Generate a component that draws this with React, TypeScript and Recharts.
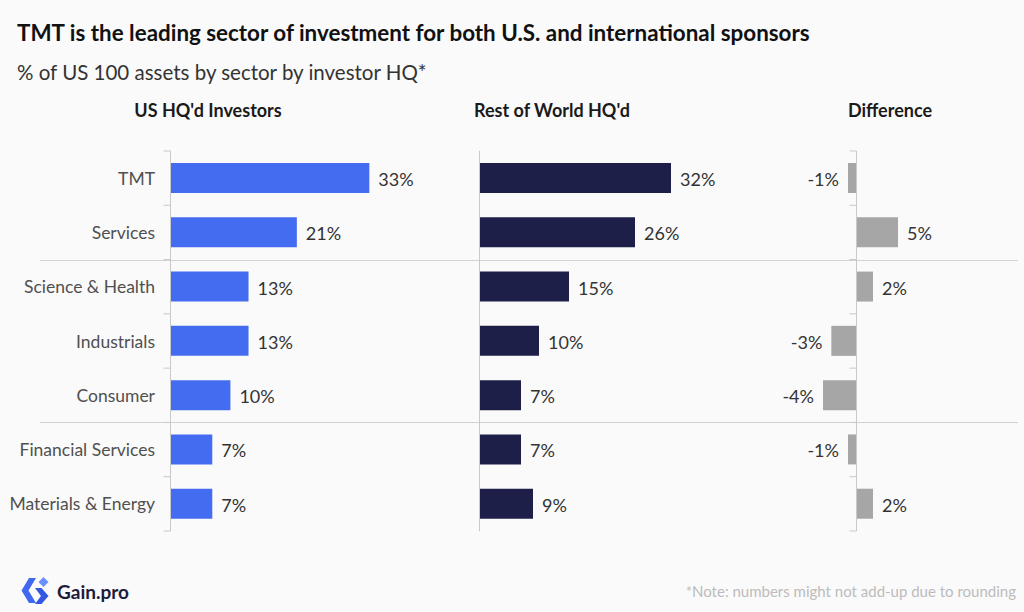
import React from 'react';
import { BarChart, Bar, XAxis, YAxis, ReferenceLine, LabelList } from 'recharts';

// Sector split of US 100 assets, by where the investor is headquartered
const sectors = [
  'TMT',
  'Services',
  'Science & Health',
  'Industrials',
  'Consumer',
  'Financial Services',
  'Materials & Energy',
];
const usShare = [33, 21, 13, 13, 10, 7, 7];
const rowShare = [32, 26, 15, 10, 7, 7, 9];
const difference = [-1, 5, 2, -3, -4, -1, 2];
// Group separators are drawn above these row positions
const groupBreaks = [2, 5];

const rows = sectors.map((sector, i) => ({
  sector,
  us: usShare[i],
  row: rowShare[i],
  diff: difference[i],
}));

const FONT = 'Lato, "Open Sans", sans-serif';
const BG = '#fafafa';
const AXIS = '#c9c9c9';
const BLUE = '#436cf0';
const NAVY = '#1d1f49';
const GREY = '#a6a6a6';

const CHART_TOP = 141;
const CHART_H = 400;
const MARGIN_V = 10;
const PLOT_TOP = CHART_TOP + MARGIN_V;
const BAND = (CHART_H - 2 * MARGIN_V) / sectors.length;

// Vertical axis at the zero value, with ticks at every category boundary
const ZeroAxis = (p: any) => {
  const { x1, y1, y2 } = p;
  const top = Math.min(y1, y2);
  const bottom = Math.max(y1, y2);
  const step = (bottom - top) / sectors.length;
  const x = Math.round(x1) + 0.5;
  return (
    <g>
      <line x1={x} y1={top} x2={x} y2={bottom} stroke={AXIS} strokeWidth={1} />
      {Array.from({ length: sectors.length + 1 }, (_, i) => (
        <line
          key={i}
          x1={x - 7}
          x2={x}
          y1={top + i * step}
          y2={top + i * step}
          stroke={AXIS}
          strokeWidth={1}
        />
      ))}
    </g>
  );
};

const ValueLabel = (p: any) => {
  const { x, y, width, height, value } = p;
  const left = Math.min(x, x + width);
  const right = Math.max(x, x + width);
  const neg = value < 0;
  return (
    <text
      x={neg ? left - 9 : right + 9}
      y={y + height / 2 + 1}
      textAnchor={neg ? 'end' : 'start'}
      dominantBaseline="central"
      fontFamily={FONT}
      fontSize={18}
      fill="#333"
    >
      {`${value}%`}
    </text>
  );
};

const SectorTick = (p: any) => (
  <text
    x={p.x}
    y={p.y}
    textAnchor="end"
    dominantBaseline="central"
    fontFamily={FONT}
    fontSize={17.5}
    fill="#505050"
  >
    {p.payload.value}
  </text>
);

type PanelProps = {
  left: number;
  width: number;
  dataKey: string;
  color: string;
  domain: [number, number];
  showLabels?: boolean;
  axisWidth?: number;
  marginRight: number;
};

const Panel = ({ left, width, dataKey, color, domain, showLabels, axisWidth, marginRight }: PanelProps) => (
  <div style={{ position: 'absolute', left, top: CHART_TOP }}>
    <BarChart
      width={width}
      height={CHART_H}
      data={rows}
      layout="vertical"
      margin={{ top: MARGIN_V, bottom: MARGIN_V, left: 0, right: marginRight }}
      barCategoryGap={0}
    >
      <XAxis type="number" domain={domain} hide allowDataOverflow />
      {showLabels ? (
        <YAxis
          type="category"
          dataKey="sector"
          width={axisWidth}
          axisLine={false}
          tickLine={false}
          tickSize={0}
          tickMargin={15}
          tick={<SectorTick />}
          interval={0}
        />
      ) : (
        <YAxis type="category" dataKey="sector" hide />
      )}
      <Bar dataKey={dataKey} fill={color} barSize={30} isAnimationActive={false}>
        <LabelList dataKey={dataKey} content={<ValueLabel />} />
      </Bar>
      <ReferenceLine x={0} stroke={AXIS} shape={<ZeroAxis />} />
    </BarChart>
  </div>
);

const Header = ({ cx, text }: { cx: number; text: string }) => (
  <div
    style={{
      position: 'absolute',
      left: cx - 120,
      width: 240,
      top: 99,
      textAlign: 'center',
      fontSize: 18,
      fontWeight: 700,
      color: '#1a1a1a',
    }}
  >
    {text}
  </div>
);

const Logo = () => (
  <svg width={30} height={30} viewBox="0 0 30 30" style={{ position: 'absolute', left: 20, top: 576 }}>
    <path d="M9 2 L16 2 L8.5 14.5 L16 27 L9 27 L1.5 14.5 Z" fill="#4169f0" />
    <path d="M23.5 1 L28.5 6 L23.5 11 L18.5 6 Z" fill="#6b8ffc" />
    <path d="M15 12 L21.5 12 L28.5 20 L21.5 28 L15 28 L21 20 Z" fill="#3457e2" />
  </svg>
);

export default function App() {
  return (
    <div
      style={{
        position: 'absolute',
        left: 0,
        top: 0,
        width: 1024,
        height: 612,
        background: BG,
        fontFamily: FONT,
        overflow: 'hidden',
      }}
    >
      <div style={{ position: 'absolute', left: 17, top: 19, fontSize: 22.4, fontWeight: 700, color: '#111' }}>
        TMT is the leading sector of investment for both U.S. and international sponsors
      </div>
      <div style={{ position: 'absolute', left: 17, top: 60, fontSize: 20.5, fontWeight: 400, color: '#333' }}>
        % of US 100 assets by sector by investor HQ*
      </div>

      <Header cx={208} text="US HQ'd Investors" />
      <Header cx={552} text="Rest of World HQ'd" />
      <Header cx={890} text="Difference" />

      {groupBreaks.map((k) => (
        <div
          key={k}
          style={{
            position: 'absolute',
            left: 40,
            width: 978,
            top: Math.round(PLOT_TOP + BAND * k),
            height: 1,
            background: '#d2d2d2',
          }}
        />
      ))}

      <Panel left={0} width={480} dataKey="us" color={BLUE} domain={[0, 50]} showLabels axisWidth={170} marginRight={8} />
      <Panel left={479} width={330} dataKey="row" color={NAVY} domain={[0, 50]} marginRight={30} />
      <Panel left={773} width={251} dataKey="diff" color={GREY} domain={[-10, 20]} marginRight={1} />

      <Logo />
      <div style={{ position: 'absolute', left: 57, top: 580, fontSize: 19, fontWeight: 700, color: '#1c1c3a' }}>
        Gain.pro
      </div>
      <div style={{ position: 'absolute', right: 8, top: 582, fontSize: 15, color: '#bcbcbc' }}>
        *Note: numbers might not add-up due to rounding
      </div>
    </div>
  );
}
